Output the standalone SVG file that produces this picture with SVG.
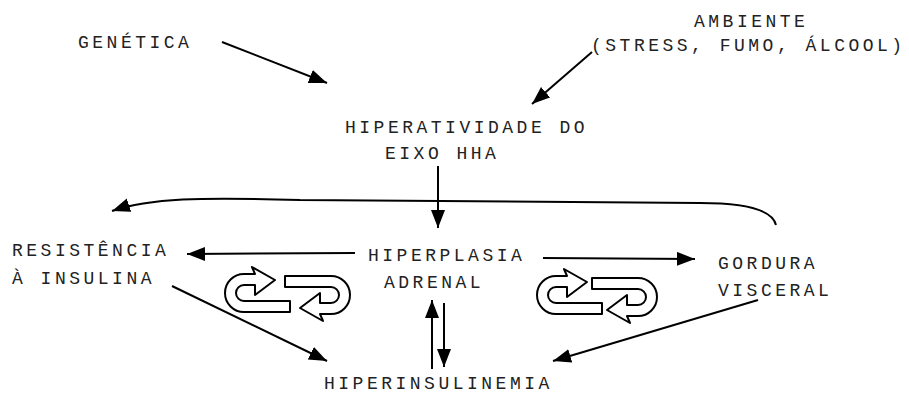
<svg xmlns="http://www.w3.org/2000/svg" width="909" height="406" viewBox="0 0 909 406">
<style>
text{font-family:"Liberation Mono","Courier New",monospace;font-size:18px;letter-spacing:3.5px;fill:#222}
.c{fill:none;stroke:#000;stroke-width:2}
.cyc{fill:#fff;stroke:#000;stroke-width:2;stroke-linejoin:round}
</style>
<defs>
<marker id="ah" markerUnits="userSpaceOnUse" markerWidth="20" markerHeight="16" refX="18" refY="7" orient="auto">
<path d="M0,0 L18,7 L0,14 Z" fill="#000"/>
</marker>
<path id="cyc" class="cyc" d="M65,27 L65,38 L19,38 A19,19 0 0 1 19,0 L30,0 L27,-7 L50,6 L30,21 L30,11 L19,11 A8,8 0 0 0 19,27 Z"/>
</defs>
<rect width="909" height="406" fill="#fff"/>
<g id="genetica"><text x="78" y="48">GENÉTICA</text></g>
<g id="ambiente"><text x="694" y="27">AMBIENTE</text><text x="591" y="51">(STRESS, FUMO, ÁLCOOL)</text></g>
<g id="hha"><text x="345" y="133">HIPERATIVIDADE DO</text><text x="385" y="159">EIXO HHA</text></g>
<g id="resistencia"><text x="12" y="256">RESISTÊNCIA</text><text x="12" y="284">À INSULINA</text></g>
<g id="hiperplasia"><text x="368" y="261">HIPERPLASIA</text><text x="384" y="288">ADRENAL</text></g>
<g id="gordura"><text x="718" y="269">GORDURA</text><text x="718" y="296">VISCERAL</text></g>
<g id="hiperinsulinemia"><text x="324" y="389">HIPERINSULINEMIA</text></g>
<g id="cycles">
<use href="#cyc" transform="translate(225,274)"/>
<use href="#cyc" transform="translate(350,314) rotate(180)"/>
<use href="#cyc" transform="translate(537,276)"/>
<use href="#cyc" transform="translate(657,316) rotate(180)"/>
</g>
<g id="connectors">
<path class="c" d="M222,42 L327,83" marker-end="url(#ah)"/>
<path class="c" d="M592,52 L532,104" marker-end="url(#ah)"/>
<path class="c" d="M438,166 L438,228" marker-end="url(#ah)"/>
<path class="c" d="M776,225 C772,208 740,203 700,203 L300,200 C200,197 150,198 112,211" marker-end="url(#ah)"/>
<path class="c" d="M355,253 L187,254" marker-end="url(#ah)"/>
<path class="c" d="M543,258 L695,259" marker-end="url(#ah)"/>
<path class="c" d="M172,286 L327,361" marker-end="url(#ah)"/>
<path class="c" d="M758,300 L553,361" marker-end="url(#ah)"/>
<path class="c" d="M432,369 L432,300" marker-end="url(#ah)"/>
<path class="c" d="M444,303 L444,367" marker-end="url(#ah)"/>
</g>
</svg>
